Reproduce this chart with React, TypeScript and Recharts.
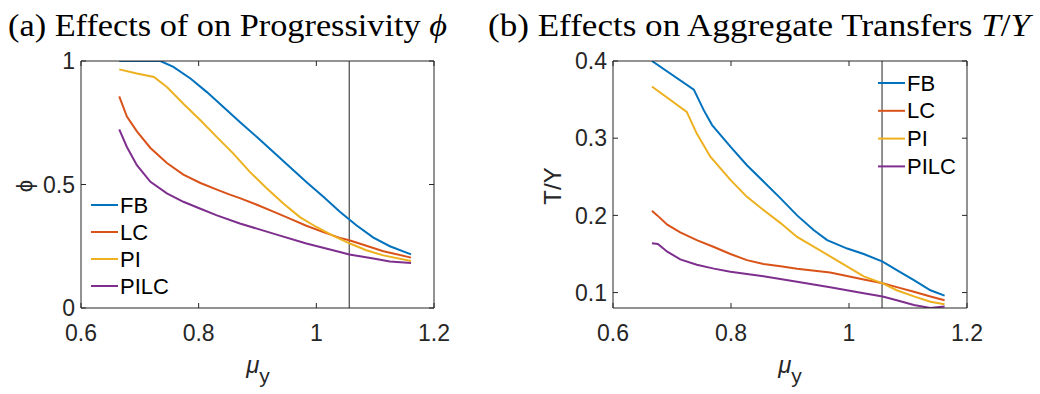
import React from "react";
import { LineChart, Line, XAxis, YAxis, ReferenceLine } from "recharts";

const seriesNames = ["FB", "LC", "PI", "PILC"];
const seriesColors = ["#0072BD", "#D95319", "#EDB120", "#7E2F8E"];
const xTicks = [0.6, 0.8, 1, 1.2];
const phiTicks = [0, 0.5, 1];
const tyTicks = [0.1, 0.2, 0.3, 0.4];
const steadyStateMu = 1.056;

// (a) progressivity phi
const fbPhiMu = [0.665, 0.735, 0.757, 0.786, 0.814, 0.842, 0.87, 0.899, 0.927, 0.955, 0.983, 1.012, 1.04, 1.068, 1.097, 1.125, 1.161];
const fbPhi = [1, 1, 0.976, 0.929, 0.874, 0.814, 0.753, 0.692, 0.632, 0.571, 0.51, 0.45, 0.39, 0.335, 0.285, 0.25, 0.217];
const lcPhiMu = [0.665, 0.678, 0.695, 0.718, 0.746, 0.774, 0.803, 0.831, 0.853, 0.87, 0.899, 0.927, 0.955, 0.983, 1.012, 1.04, 1.056, 1.085, 1.114, 1.161];
const lcPhi = [0.857, 0.775, 0.715, 0.648, 0.587, 0.54, 0.506, 0.479, 0.459, 0.445, 0.418, 0.39, 0.362, 0.333, 0.307, 0.284, 0.274, 0.252, 0.23, 0.204];
const piPhiMu = [0.665, 0.695, 0.724, 0.746, 0.774, 0.803, 0.831, 0.859, 0.887, 0.916, 0.944, 0.972, 1.0, 1.029, 1.057, 1.085, 1.114, 1.161];
const piPhi = [0.966, 0.949, 0.935, 0.895, 0.827, 0.76, 0.692, 0.625, 0.551, 0.484, 0.423, 0.368, 0.328, 0.292, 0.261, 0.234, 0.213, 0.19];
const pilcPhiMu = [0.665, 0.678, 0.695, 0.718, 0.746, 0.774, 0.803, 0.831, 0.87, 0.927, 0.983, 1.04, 1.056, 1.097, 1.125, 1.161];
const pilcPhi = [0.723, 0.652, 0.578, 0.511, 0.464, 0.43, 0.402, 0.375, 0.342, 0.301, 0.261, 0.227, 0.217, 0.2, 0.188, 0.182];

// (b) transfers T/Y
const fbTyMu = [0.666, 0.737, 0.754, 0.768, 0.799, 0.827, 0.855, 0.884, 0.912, 0.94, 0.963, 0.997, 1.025, 1.057, 1.081, 1.11, 1.138, 1.162];
const fbTy = [0.4, 0.363, 0.336, 0.317, 0.289, 0.265, 0.244, 0.222, 0.2, 0.181, 0.168, 0.157, 0.15, 0.14, 0.129, 0.116, 0.103, 0.096];
const lcTyMu = [0.666, 0.675, 0.692, 0.714, 0.742, 0.771, 0.799, 0.827, 0.855, 0.884, 0.912, 0.968, 1.025, 1.057, 1.081, 1.11, 1.138, 1.162];
const lcTy = [0.206, 0.2, 0.188, 0.178, 0.168, 0.159, 0.15, 0.142, 0.137, 0.134, 0.131, 0.126, 0.117, 0.112, 0.107, 0.101, 0.095, 0.09];
const piTyMu = [0.666, 0.725, 0.742, 0.765, 0.799, 0.827, 0.855, 0.884, 0.912, 0.968, 1.025, 1.057, 1.081, 1.11, 1.138, 1.162];
const piTy = [0.367, 0.334, 0.306, 0.276, 0.246, 0.224, 0.207, 0.19, 0.172, 0.147, 0.121, 0.112, 0.103, 0.095, 0.088, 0.085];
const pilcTyMu = [0.666, 0.676, 0.692, 0.714, 0.742, 0.771, 0.799, 0.855, 0.912, 0.968, 1.025, 1.057, 1.081, 1.11, 1.138, 1.162];
const pilcTy = [0.164, 0.163, 0.153, 0.143, 0.136, 0.131, 0.127, 0.121, 0.114, 0.107, 0.099, 0.095, 0.09, 0.084, 0.08, 0.082];

const zip = (xs: number[], ys: number[]) => xs.map((x, i) => ({ mu: x, v: ys[i] }));

const phiSeries = [zip(fbPhiMu, fbPhi), zip(lcPhiMu, lcPhi), zip(piPhiMu, piPhi), zip(pilcPhiMu, pilcPhi)];
const tySeries = [zip(fbTyMu, fbTy), zip(lcTyMu, lcTy), zip(piTyMu, piTy), zip(pilcTyMu, pilcTy)];

const sans = "'Liberation Sans', Arial, sans-serif";
const serif = "'Liberation Serif', 'Times New Roman', serif";
const axisColor = "#262626";
const tickStyle = { fontSize: 23, fill: axisColor, fontFamily: sans };

// axes are 1px thick/wide, so margins are 1px smaller than the plot edges
const Panel = ({ series, yDomain, yTicks, margin, width }: any) => (
  <LineChart width={width} height={394} margin={margin}>
    <XAxis xAxisId="b" type="number" dataKey="mu" domain={[0.6, 1.2]} ticks={xTicks} allowDataOverflow
      height={1} tickSize={-5} tickMargin={22} tick={tickStyle} stroke={axisColor} />
    <XAxis xAxisId="t" orientation="top" type="number" dataKey="mu" domain={[0.6, 1.2]} ticks={xTicks} allowDataOverflow
      height={1} tickSize={-5} tickFormatter={() => ""} stroke={axisColor} />
    <YAxis yAxisId="l" type="number" domain={yDomain} ticks={yTicks} allowDataOverflow
      width={1} tickSize={-5} tickMargin={11} tick={tickStyle} stroke={axisColor} />
    <YAxis yAxisId="r" orientation="right" type="number" domain={yDomain} ticks={yTicks} allowDataOverflow
      width={1} tickSize={-5} tickFormatter={() => ""} stroke={axisColor} />
    <ReferenceLine xAxisId="b" yAxisId="l" x={steadyStateMu} stroke="#555" strokeWidth={1.3} />
    {series.map((d: any, i: number) => (
      <Line key={seriesNames[i]} xAxisId="b" yAxisId="l" data={d} dataKey="v" type="linear"
        stroke={seriesColors[i]} strokeWidth={2} dot={false} isAnimationActive={false} />
    ))}
  </LineChart>
);

const LegendBox = ({ x, y, gap }: any) => (
  <g>
    {seriesNames.map((n, i) => (
      <g key={n}>
        <line x1={x} x2={x + 27} y1={y + i * gap} y2={y + i * gap} stroke={seriesColors[i]} strokeWidth={2} />
        <text x={x + 29} y={y + i * gap} dominantBaseline="central" fontSize={22} fontFamily={sans} fill="#000">{n}</text>
      </g>
    ))}
  </g>
);

export default function App() {
  return (
    <div style={{ position: "absolute", left: 0, top: 0, width: 1040, height: 394, background: "#fff" }}>
      <div style={{ position: "absolute", left: 0, top: 0 }}>
        <Panel series={phiSeries} yDomain={[0, 1]} yTicks={phiTicks} width={470}
          margin={{ top: 60, left: 80, right: 35, bottom: 85 }} />
      </div>
      <div style={{ position: "absolute", left: 520, top: 0 }}>
        <Panel series={tySeries} yDomain={[0.08, 0.4]} yTicks={tyTicks} width={520}
          margin={{ top: 60, left: 92, right: 72, bottom: 85 }} />
      </div>
      <svg width={1040} height={394} style={{ position: "absolute", left: 0, top: 0, pointerEvents: "none" }}>
        <text x={8} y={36} fontSize={31} fontFamily={serif} textLength={439} lengthAdjust="spacingAndGlyphs">
          (a) Effects of on Progressivity <tspan fontStyle="italic">ϕ</tspan>
        </text>
        <text x={488} y={36} fontSize={31} fontFamily={serif} textLength={542} lengthAdjust="spacingAndGlyphs">
          (b) Effects on Aggregate Transfers <tspan fontStyle="italic">T</tspan>/<tspan fontStyle="italic">Y</tspan>
        </text>
        <text transform="translate(24,186) rotate(-90)" textAnchor="middle" dominantBaseline="central"
          fontSize={22} fontFamily={sans} fill={axisColor}>ϕ</text>
        <text transform="translate(552,186) rotate(-90)" textAnchor="middle" dominantBaseline="central"
          fontSize={24} fontFamily={sans} fill={axisColor}>T/Y</text>
        <text x={258} y={373} textAnchor="middle" fontSize={24} fontFamily={sans} fill={axisColor}>
          <tspan fontStyle="italic">μ</tspan><tspan fontSize={21} dy={10}>y</tspan>
        </text>
        <text x={790} y={373} textAnchor="middle" fontSize={24} fontFamily={sans} fill={axisColor}>
          <tspan fontStyle="italic">μ</tspan><tspan fontSize={21} dy={10}>y</tspan>
        </text>
        <LegendBox x={91} y={205} gap={27} />
        <LegendBox x={878} y={83} gap={27.8} />
      </svg>
    </div>
  );
}
